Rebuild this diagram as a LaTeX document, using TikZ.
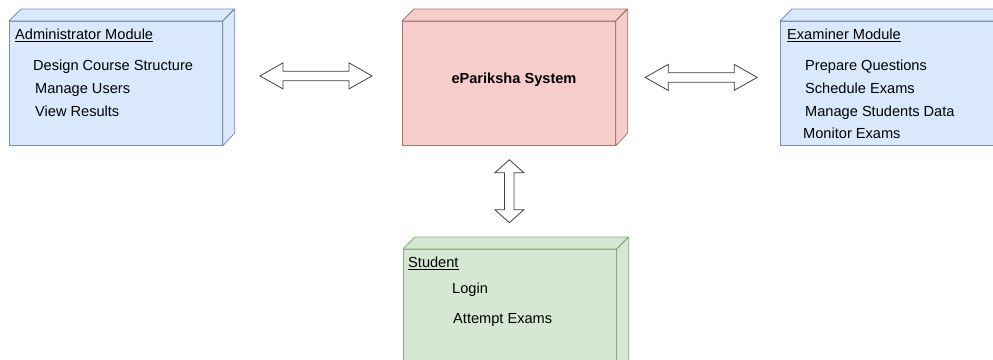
\documentclass[tikz,border=0pt]{standalone}
\usepackage{fontspec}
\setmainfont{Liberation Sans}
\usepackage{xcolor}
\usetikzlibrary{
  positioning,
  calc
}

\definecolor{adminfill}{HTML}{DAE8FC}
\definecolor{adminline}{HTML}{7A8FB0}
\definecolor{sysfill}{HTML}{F6CDCB}
\definecolor{sysline}{HTML}{A87572}
\definecolor{studfill}{HTML}{D5E8D4}
\definecolor{studline}{HTML}{8AAA7E}

% double block arrow: centre, rotation, half length, head length, head half width
\newcommand{\dblarrow}[5]{
  \draw[arrowline, shift={(#1)}, rotate=#2]
    (-#3,0) -- (-#3+#4,-#5) -- (-#3+#4,-4.75) -- (#3-#4,-4.75) -- (#3-#4,-#5)
    -- (#3,0) -- (#3-#4,#5) -- (#3-#4,4.75) -- (-#3+#4,4.75) -- (-#3+#4,#5) -- cycle;
}

\begin{document}
\begin{tikzpicture}[x=1pt, y=-1pt,
    font=\fontsize{14.6}{17}\selectfont,
    module/.style={draw, line width=0.8pt, minimum width=213pt, minimum height=124pt,
      anchor=north west, inner sep=0pt},
    face/.style={line width=0.8pt, line join=round},
    item/.style={anchor=base west, inner sep=0pt},
    arrowline/.style={draw=black!75, line width=0.8pt, fill=white, line join=miter}]

  \useasboundingbox (0,0) rectangle (993,359);

  % Modules (front faces)
  \node[module, draw=adminline, fill=adminfill] (admin) at (9,21) {};
  \node[module, draw=sysline, fill=sysfill] (sys) at (402,21) {};
  \node[module, draw=adminline, fill=adminfill] (exam) at (780,21) {};
  \node[module, draw=studline, fill=studfill] (stud) at (403,249) {};

  % Top and side faces
  \foreach \n/\f/\l in {admin/adminfill/adminline, sys/sysfill/sysline,
      exam/adminfill/adminline, stud/studfill/studline} {
    \draw[face, draw=\l, fill=\f] (\n.north west) -- ++(12,-12) -- ++(213,0) -- (\n.north east) -- cycle;
    \draw[face, draw=\l, fill=\f] (\n.north east) -- ++(12,-12) -- ++(0,124) -- (\n.south east) -- cycle;
  }

  % Administrator Module
  \node[item] (admintitle) at (15,39.5) {\underline{Administrator Module}};
  \node[item] (admin1) at (33,70.5) {Design Course Structure};
  \node[item] (admin2) at (35,93.5) {Manage Users};
  \node[item] (admin3) at (35,116.5) {View Results};

  % ePariksha System
  \node[anchor=base, inner sep=0pt, font=\fontsize{14.6}{17}\selectfont\bfseries] (systitle) at (514,83.5) {ePariksha System};

  % Examiner Module
  \node[item] (examtitle) at (787,39.5) {\underline{Examiner Module}};
  \node[item] (exam1) at (805,70.5) {Prepare Questions};
  \node[item] (exam2) at (805,93.5) {Schedule Exams};
  \node[item] (exam3) at (805,116.5) {Manage Students Data};
  \node[item] (exam4) at (803,138.5) {Monitor Exams};

  % Student
  \node[item] (studtitle) at (408,267.5) {\underline{Student}};
  \node[item] (stud1) at (452,293.5) {Login};
  \node[item] (stud2) at (453,323.5) {Attempt Exams};

  % Connectors
  \coordinate (leftarrow) at ($(admin.east)!0.52!(sys.west)+(0,-7.5)$);
  \coordinate (rightarrow) at ($(sys.east)!0.52!(exam.west)+(0,-6)$);
  \coordinate (downarrow) at ($(sys.south)!0.44!(stud.north)$);

  \dblarrow{leftarrow}{0}{56}{23}{13}
  \dblarrow{rightarrow}{0}{56}{23}{13}
  \dblarrow{downarrow}{90}{31.5}{13}{14.5}
\end{tikzpicture}
\end{document}
